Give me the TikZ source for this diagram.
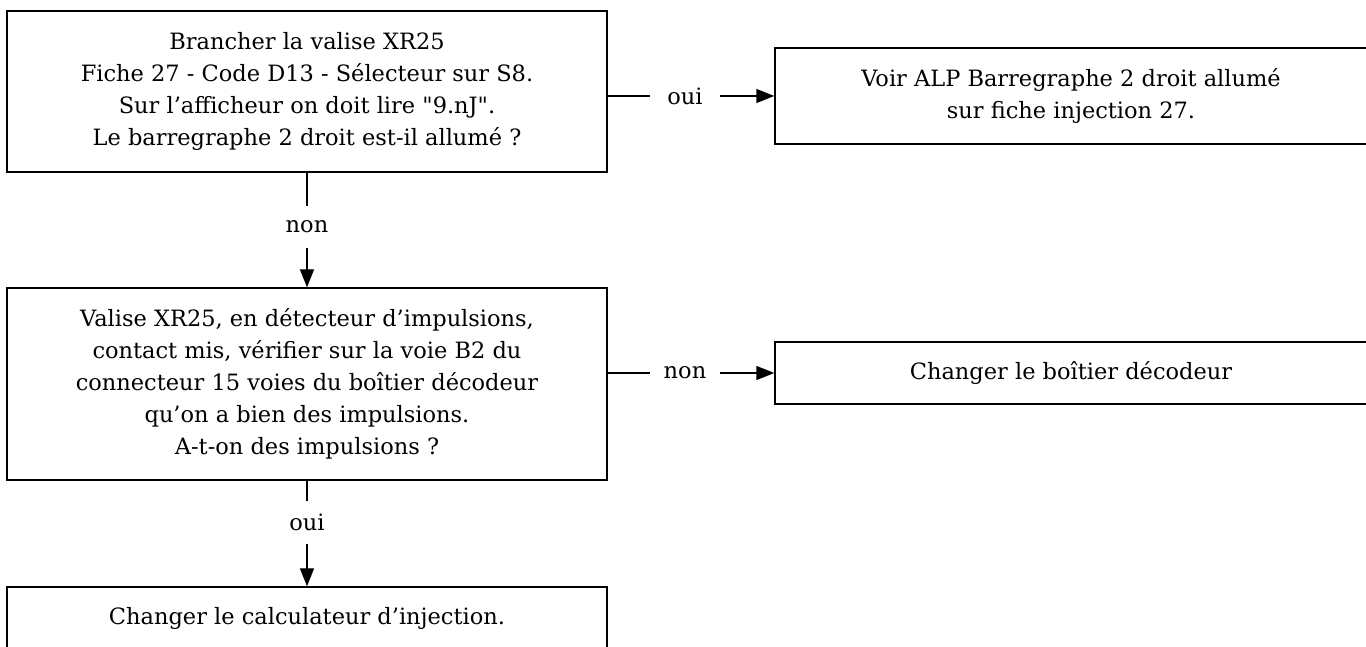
\documentclass[tikz,border=0pt]{standalone}
\usepackage{fontspec}
\newfontfamily\boxfont{DejaVu Serif}
\usepackage{tikz}
\usetikzlibrary{arrows.meta}

\begin{document}
\begin{tikzpicture}[
    box/.style={rectangle, draw, line width=0.8pt, align=center, inner sep=0pt, font=\boxfont\fontsize{12.8}{18.2}\selectfont},
    lab/.style={inner sep=0pt, font=\boxfont\fontsize{12.8}{18.2}\selectfont},
    hlab/.style={lab, minimum width=1.4cm},
    vlab/.style={lab, minimum height=0.84cm},
    link/.style={line width=0.8pt},
    arr/.style={link, -{Triangle[length=0.36cm, width=0.28cm]}}]
    \useasboundingbox (0,0) rectangle (27.32,-12.94);

    \node[box, minimum width=12cm, minimum height=3.22cm] (brancher) at (6.14,-1.83) {Brancher la valise XR25\\Fiche 27 - Code D13 - Sélecteur sur S8.\\Sur l’afficheur on doit lire "9.nJ".\\Le barregraphe 2 droit est-il allumé ?};
    \node[box, minimum width=11.84cm, minimum height=1.92cm] (voir) at (21.42,-1.92) {Voir ALP Barregraphe 2 droit allumé\\sur fiche injection 27.};
    \node[box, minimum width=12cm, minimum height=3.84cm] (valise) at (6.14,-7.68) {Valise XR25, en détecteur d’impulsions,\\contact mis, vérifier sur la voie B2 du\\connecteur 15 voies du boîtier décodeur\\qu’on a bien des impulsions.\\A-t-on des impulsions ?};
    \node[box, minimum width=11.84cm, minimum height=1.24cm] (decodeur) at (21.42,-7.46) {Changer le boîtier décodeur};
    \node[box, minimum width=12cm, minimum height=1.24cm] (calculateur) at (6.14,-12.36) {Changer le calculateur d’injection.};

    % labels on the links
    \node[hlab] (ouiA) at (13.7,-1.92) {oui};
    \node[vlab] (nonA) at (6.14,-4.54) {non};
    \node[hlab] (nonB) at (13.7,-7.46) {non};
    \node[vlab] (ouiB) at (6.14,-10.45) {oui};

    \draw[link] (brancher.east |- ouiA) -- (ouiA.west);
    \draw[arr] (ouiA.east) -- (voir.west);
    \draw[link] (brancher.south) -- (nonA.north);
    \draw[arr] (nonA.south) -- (valise.north);
    \draw[link] (valise.east |- nonB) -- (nonB.west);
    \draw[arr] (nonB.east) -- (decodeur.west);
    \draw[link] (valise.south) -- (ouiB.north);
    \draw[arr] (ouiB.south) -- (calculateur.north);
\end{tikzpicture}
\end{document}
